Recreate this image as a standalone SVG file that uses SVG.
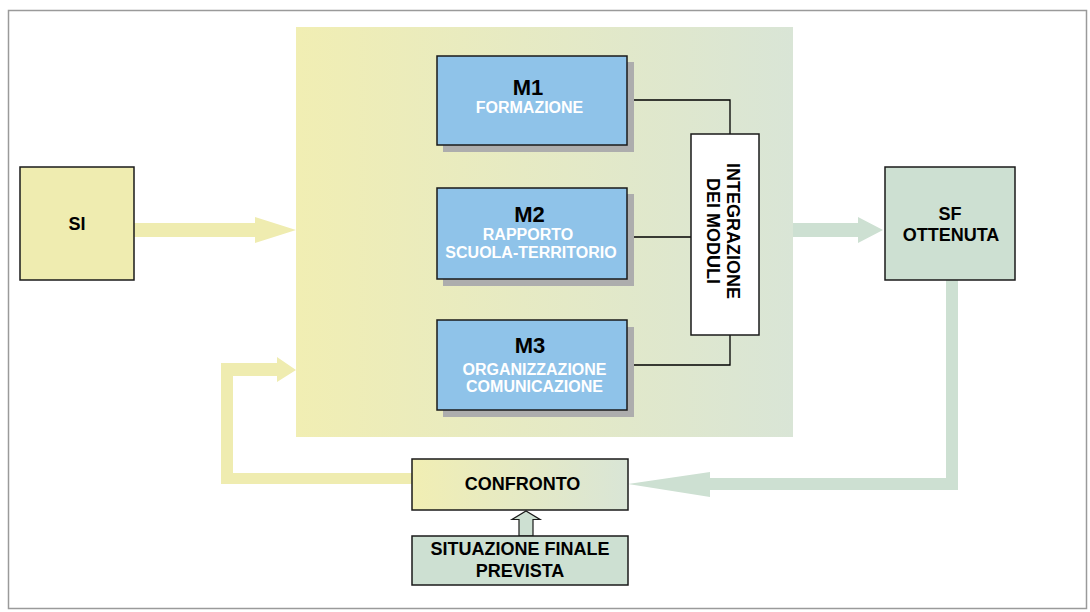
<svg xmlns="http://www.w3.org/2000/svg" width="1090" height="612" viewBox="0 0 1090 612">
<defs>
<linearGradient id="panelGrad" x1="0" y1="0" x2="1" y2="0">
<stop offset="0" stop-color="#f1eeb3"/>
<stop offset="1" stop-color="#d9e5d6"/>
</linearGradient>
<linearGradient id="confGrad" x1="0" y1="0" x2="1" y2="0">
<stop offset="0" stop-color="#f1eeb3"/>
<stop offset="1" stop-color="#d9e5d6"/>
</linearGradient>
<style>
text{font-family:"Liberation Sans",Arial,sans-serif;font-weight:bold;text-anchor:middle}
.box{stroke:#1a1a1a;stroke-width:1.5}
.mod{fill:#8fc3e9}
.shadow{fill:#adadad}
.title{font-size:22px;fill:#000}
.sub{font-size:16px;fill:#fff}
.lbl{font-size:18px;fill:#000}
.wire{fill:none;stroke:#000;stroke-width:1.3}
</style>
</defs>
<rect x="8.5" y="10.5" width="1078" height="598" fill="#fff" stroke="#9a9a9a" stroke-width="1.5"/>
<rect id="panel" x="296" y="27" width="497" height="410" fill="url(#panelGrad)"/>
<g id="connectors">
<polygon points="134,223 255,223 255,217 296,230 255,243 255,237 134,237" fill="#efecb0"/>
<polygon points="793,223 858,223 858,217 883,230 858,243 858,237 793,237" fill="#cde0d2"/>
<polygon points="946,280 958,280 958,490 710,490 710,497 628,484 710,472 710,478 946,478" fill="#cde0d2"/>
<polygon points="412,473 233,473 233,376 277,376 277,382 296,370 277,357 277,363 221,363 221,484 412,484" fill="#efecb0"/>
<polygon points="519,536 519,519.5 512,519.5 526,511 540,519.5 533,519.5 533,536" fill="#cde0d2" stroke="#1a1a1a" stroke-width="1.2"/>
<polyline class="wire" points="627,100 730,100 730,134"/>
<line class="wire" x1="627" y1="237" x2="691" y2="237"/>
<polyline class="wire" points="627,365 730,365 730,335"/>
</g>
<g id="SI">
<rect class="box" x="20" y="167" width="114" height="113" fill="#efecb0"/>
<text class="lbl" x="77" y="230">SI</text>
</g>
<g id="M1">
<rect class="shadow" x="443" y="62" width="191" height="90"/>
<rect class="box mod" x="437" y="56" width="190" height="89"/>
<text class="title" x="528" y="95">M1</text>
<text class="sub" x="529.5" y="113">FORMAZIONE</text>
</g>
<g id="M2">
<rect class="shadow" x="443" y="194" width="191" height="92"/>
<rect class="box mod" x="437" y="188" width="190" height="91"/>
<text class="title" x="529.5" y="222">M2</text>
<text class="sub" x="528" y="240">RAPPORTO</text>
<text class="sub" x="531" y="258">SCUOLA-TERRITORIO</text>
</g>
<g id="M3">
<rect class="shadow" x="443" y="327" width="191" height="90"/>
<rect class="box mod" x="437" y="320" width="190" height="90"/>
<text class="title" x="530" y="353">M3</text>
<text class="sub" x="534.5" y="375">ORGANIZZAZIONE</text>
<text class="sub" x="534.5" y="392">COMUNICAZIONE</text>
</g>
<g id="integrazione">
<rect class="box" x="691" y="134" width="68" height="201" fill="#fff"/>
<text class="lbl" transform="translate(727,231) rotate(90)">INTEGRAZIONE</text>
<text class="lbl" transform="translate(707,231) rotate(90)">DEI MODULI</text>
</g>
<g id="SF">
<rect class="box" x="885" y="167" width="130" height="113" fill="#cde0d2"/>
<text class="lbl" x="950" y="220">SF</text>
<text class="lbl" x="951" y="241">OTTENUTA</text>
</g>
<g id="confronto">
<rect class="box" x="412" y="459" width="216" height="51" fill="url(#confGrad)"/>
<text class="lbl" x="522.5" y="490">CONFRONTO</text>
</g>
<g id="situazione">
<rect class="box" x="412" y="536" width="216" height="49" fill="#cde0d2"/>
<text class="lbl" x="520" y="555">SITUAZIONE FINALE</text>
<text class="lbl" x="520" y="577">PREVISTA</text>
</g>
</svg>
